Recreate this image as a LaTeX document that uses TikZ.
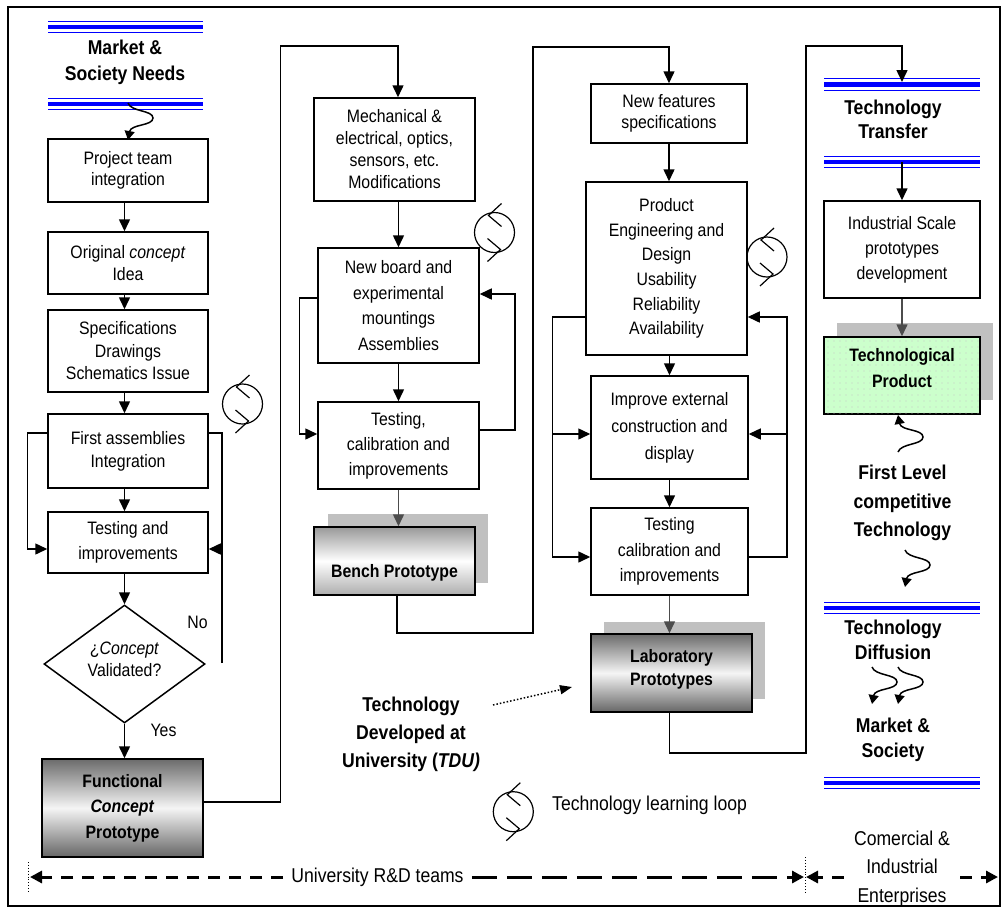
\documentclass[tikz,border=0pt]{standalone}
\usepackage{fontspec}
\setmainfont{Liberation Sans}[FakeStretch=0.88]
\usetikzlibrary{arrows.meta,shapes.geometric,patterns.meta}
\definecolor{barblue}{RGB}{0,0,255}
\definecolor{shad}{RGB}{192,192,192}
\definecolor{prodgreen}{RGB}{204,255,204}

\newcommand\tribar[4]{%
  \coordinate (#1) at ({(#2+#3)/2},#4);
  \draw[barblue, line width=1.1pt] (#2,#4-5.7) -- (#3,#4-5.7) (#2,#4+5.7) -- (#3,#4+5.7);
  \draw[barblue, line width=4.3pt] (#2,#4) -- (#3,#4);}

\newcommand\loopsym[2]{%
  \begin{scope}[shift={(#2)}]
    \coordinate (#1) at (0,0);
    \draw[line width=1.2pt] (0,0) circle[radius=20];
    \draw[line width=1.2pt] (7,-29) -- (-6,-17) -- (7,-6) (-7,29) -- (6,17) -- (-7,6);
  \end{scope}}

\newcommand\squig[3]{%
  \begin{scope}[shift={(#2)}, yscale=#3]
    \coordinate (#1) at (0,0);
    \draw[sqarr] (0,0) .. controls (3,9) and (25,7) .. (25,15) .. controls (25,23) and (3,21) .. (0,37);
  \end{scope}}

\begin{document}
\begin{tikzpicture}[x=1pt,y=-1pt,
  box/.style={draw, line width=1.5pt, inner sep=0pt, align=center, font=\fontsize{18}{#1}\selectfont},
  box/.default=23,
  txt/.style={font=\fontsize{18}{#1}\selectfont, align=center, inner sep=0pt},
  txt/.default=22,
  txtl/.style={font=\fontsize{20}{#1}\selectfont, align=center, inner sep=0pt},
  txtl/.default=24,
  hdr/.style={font=\bfseries\fontsize{20}{#1}\selectfont, align=center, inner sep=0pt},
  hdr/.default=24,
  ptxt/.style={font=\bfseries\fontsize{18}{#1}\selectfont, align=center, inner sep=0pt},
  ptxt/.default=25,
  ln/.style={line width=1.5pt},
  arr/.style={line width=1.5pt, -{Triangle[length=12pt,width=11pt]}},
  sqarr/.style={line width=1.5pt, -{Triangle[length=9pt,width=10pt]}},
  garr/.style={arr, draw=black!70},
  protodark/.style={draw, line width=1.5pt, inner sep=0pt, top color=black!58, bottom color=black!60, middle color=black!4},
  protolight/.style={draw, line width=1.5pt, inner sep=0pt, top color=black!40, bottom color=black!32, middle color=white},
  dlshort/.style={line width=3pt, dash pattern=on 12pt off 9pt, -{Triangle[length=12pt,width=12pt]}},
  dllong/.style={line width=3pt, dash pattern=on 25pt off 10pt, -{Triangle[length=12pt,width=12pt]}},
  tick/.style={line width=0.9pt, dotted}
]
\useasboundingbox (0,0) rectangle (1007,911);
\draw[line width=1.4pt] (8,7) rectangle (1000,906);

% ---------- shadows ----------
\fill[shad] (328,514) rectangle (488,583);
\fill[shad] (604,622) rectangle (765,699);
\fill[shad] (837,323) rectangle (993,400);

% ---------- column 1 ----------
\tribar{bar1a}{48}{203}{27}
\node[hdr=26] (mkt) at (125,62) {Market \&\\Society Needs};
\tribar{bar1b}{48}{203}{104}
\squig{sq1}{128,103}{1}

\node[box=21.5, minimum width=160, minimum height=63] (b1) at (128,170.5) {Project team\\integration};
\node[box=22, minimum width=160, minimum height=62] (b2) at (128,263) {Original \textit{concept}\\Idea};
\node[box=22.5, minimum width=160, minimum height=82] (b3) at (128,351) {Specifications\\Drawings\\Schematics Issue};
\node[box=23, minimum width=160, minimum height=74] (b4) at (128,451) {First assemblies\\Integration};
\node[box=25, minimum width=160, minimum height=61] (b5) at (128,542.5) {Testing and\\improvements};
\node[draw, diamond, line width=1.5pt, minimum width=161, minimum height=118, inner sep=0pt] (dia) at (124.5,664) {};
\node[txt=22] (diat) at (124.5,659.5) {¿\textit{Concept}\\Validated?};
\node[txt] (no) at (197.5,622.5) {No};
\node[txt] (yes) at (163.5,730.5) {Yes};
\node[protodark, minimum width=161, minimum height=98, font=\bfseries\fontsize{18}{25.5}\selectfont, align=center] (func) at (122.5,808) {Functional\\\textit{Concept}\\Prototype};
\loopsym{lp1}{242.5,404}

% ---------- column 2 ----------
\node[box=22, minimum width=161, minimum height=103] (mech) at (394.5,149.5) {Mechanical \&\\electrical, optics,\\sensors, etc.\\Modifications};
\node[box=25.5, minimum width=161, minimum height=115] (nb) at (398.5,305.5) {New board and\\experimental\\mountings\\Assemblies};
\node[box=25, minimum width=161, minimum height=87] (t2) at (398.5,445.5) {Testing,\\calibration and\\improvements};
\node[protolight, minimum width=161, minimum height=68] (bench) at (394.5,561) {};
\node[ptxt] (benchl) at (394.5,572.4) {Bench Prototype};
\loopsym{lp2}{494.5,232.5}

% ---------- column 3 ----------
\node[box=20.5, minimum width=156, minimum height=59] (nf) at (669,113.5) {New features\\specifications};
\node[box=24.6, minimum width=161, minimum height=173] (prod) at (666.5,268.5) {Product\\Engineering and\\Design\\Usability\\Reliability\\Availability};
\node[box=27, minimum width=157, minimum height=103] (imp) at (669.5,427.5) {Improve external\\construction and\\display};
\node[box=25.5, minimum width=157, minimum height=87] (t3) at (669.5,551.5) {Testing\\calibration and\\improvements};
\node[protodark, minimum width=161, minimum height=78] (lab) at (671.5,673) {};
\node[ptxt=23.3] (labl) at (671.5,669) {Laboratory\\Prototypes};
\loopsym{lp3}{767,257}

% ---------- column 4 ----------
\tribar{bar4a}{824}{980}{84.5}
\node[hdr=24] (ttr) at (893,119.7) {Technology\\Transfer};
\tribar{bar4b}{824}{980}{162}
\node[box=25, minimum width=156, minimum height=97] (ind) at (902,249.5) {Industrial Scale\\prototypes\\development};
\node[draw, line width=1.5pt, inner sep=0pt, fill=prodgreen, postaction={pattern={Dots[distance=6pt,radius=0.6pt]}, pattern color=black!22}, minimum width=156, minimum height=77] (tp) at (902,375.5) {};
\node[ptxt=26] (tpl) at (902,368.2) {Technological\\Product};

\squig{sq2}{898,452}{-1}
\node[hdr=28.5] (flct) at (902.5,503.3) {First Level\\competitive\\Technology};
\squig{sq3}{905,550}{1}
\tribar{bar4c}{824}{980}{608}
\node[hdr=25] (tdif) at (893,640.2) {Technology\\Diffusion};
\squig{sq4}{872,667}{1}
\squig{sq5}{898,667}{1}
\node[hdr=25] (msoc) at (893,740.3) {Market \&\\Society};
\tribar{bar4d}{824}{980}{783}

% ---------- middle texts ----------
\node[hdr=28] (tdu) at (411,734.8) {Technology\\Developed at\\University (\textit{TDU)}};
\coordinate (dtA) at (493,705);
\coordinate (dtB) at (572,687);
\loopsym{lp4}{513.3,811.7}
\node[txtl, anchor=west] (tll) at (552,805) {Technology learning loop};

% ---------- bottom scale ----------
\node[txtl, inner xsep=8pt] (rd) at (377.5,877) {University R\&D teams};
\node[txtl=28.5, inner xsep=10pt] (ce) at (902,868.4) {Comercial \&\\Industrial\\Enterprises};
\coordinate (lend) at (30,877);
\coordinate (rend) at (804,877);
\coordinate (rend2) at (806,877);
\coordinate (rend3) at (998,877);
\coordinate (tkla) at (28,862);
\coordinate (tklb) at (28,892);
\coordinate (tkra) at (805,857);
\coordinate (tkrb) at (805,892);

% ---------- connectors ----------
% column 1
\draw[arr] (b1.south -| dia.north) -- (b2.north -| dia.north);
\draw[arr] (b2.south -| dia.north) -- (b3.north -| dia.north);
\draw[arr] (b3.south -| dia.north) -- (b4.north -| dia.north);
\draw[arr] (b4.south -| dia.north) -- (b5.north -| dia.north);
\draw[arr] (b5.south -| dia.north) -- (dia.north);
\draw[arr] (dia.south) -- (dia.south |- func.north);
\draw[arr] ([yshift=18pt]b4.west) -- ++(-20,0) |- ([yshift=-6.5pt]b5.west);
\coordinate (nol) at (222,663);
\draw[ln] (nol) |- ([yshift=18pt]b4.east);
\draw[arr] ([yshift=-6.5pt,xshift=14pt]b5.east) -- ([yshift=-6.5pt]b5.east);
% column 1 -> 2
\coordinate (c1a) at (280.5,46);
\draw[arr] ([yshift=6pt]func.east) -| (c1a) -| ([xshift=3.5pt]mech.north);
% column 2
\draw[arr] (mech.south -| nb.north) -- (nb.north);
\draw[arr] (nb.south) -- (t2.north);
\draw[arr] ([yshift=7.5pt]nb.west) -- ++(-18,0) |- ([yshift=11.5pt]t2.west);
\draw[arr] ([yshift=15.5pt]t2.east) -- ++(35,0) |- ([yshift=11.5pt]nb.east);
\draw[garr] (t2.south) -- (t2.south |- bench.north);
% column 2 -> 3
\coordinate (c2a) at (533,633);
\coordinate (c2b) at (533,47);
\draw[arr] ([xshift=2.5pt]bench.south) |- (c2a) -- (c2b) -| (nf.north);
% column 3
\draw[arr] (nf.south) -- (nf.south |- prod.north);
\draw[arr] (prod.south -| imp.north) -- (imp.north);
\draw[arr] (imp.south) -- (t3.north);
\draw[arr] ([yshift=-48.5pt]prod.west) -- ++(-33,0) |- ([yshift=-5.5pt]t3.west);
\draw[arr] ([yshift=-6.5pt,xshift=-38pt]imp.west) -- ([yshift=-6.5pt]imp.west);
\draw[arr] ([yshift=-5.5pt]t3.east) -- ++(38,0) |- ([yshift=-48.5pt]prod.east);
\draw[arr] ([yshift=-6.5pt,xshift=38pt]imp.east) -- ([yshift=-6.5pt]imp.east);
\draw[garr] (t3.south) -- (t3.south |- lab.north);
% column 3 -> 4
\coordinate (c3a) at (806,753);
\coordinate (c3b) at (806,46);
\coordinate (ttin) at (902,82);
\draw[arr] (lab.south -| t3.south) |- (c3a) -- (c3b) -| (ttin);
% column 4
\draw[arr] (bar4b) -- (ind.north);
\draw[garr] (ind.south) -- (tp.north);
% dotted pointer
\draw[line width=1.5pt, dotted, -{Triangle[length=12pt,width=9pt]}] (dtA) -- (dtB);
% bottom scale
\draw[tick] (tkla) -- (tklb);
\draw[tick] (tkra) -- (tkrb);
\draw[dlshort] (rd.west) -- (lend);
\draw[dllong] (rd.east) -- (rend);
\draw[dlshort] ([yshift=-8.6pt]ce.west) -- (rend2);
\draw[dlshort] ([yshift=-8.6pt]ce.east) -- (rend3);
\end{tikzpicture}
\end{document}
